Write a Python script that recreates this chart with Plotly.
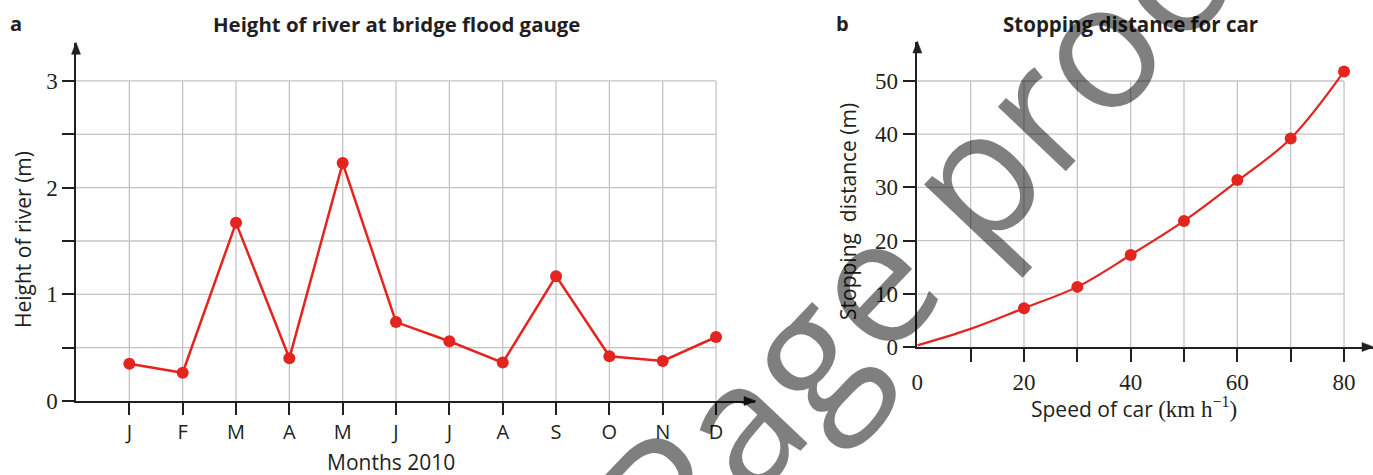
import plotly.graph_objects as go

# ---------------- data ----------------
months = ["J", "F", "M", "A", "M", "J", "J", "A", "S", "O", "N", "D"]
month_pos = [1, 2, 3, 4, 5, 6, 7, 8, 9, 10, 11, 12]
river_height = [0.35, 0.265, 1.67, 0.40, 2.23, 0.74, 0.56, 0.36, 1.17, 0.42, 0.375, 0.60]
river_yticks = [0, 0.5, 1, 1.5, 2, 2.5, 3]
river_yticktext = ["0", " ", "1", " ", "2", " ", "3"]

speed = [20, 30, 40, 50, 60, 70, 80]
stop_dist = [7.3, 11.3, 17.3, 23.7, 31.4, 39.2, 51.8]
curve_speed = [0, 10, 20, 30, 40, 50, 60, 70, 80]
curve_dist = [0.3, 3.4, 7.3, 11.3, 17.3, 23.7, 31.2, 39.2, 51.8]
car_xlabels = [0, 20, 40, 60, 80]
car_xticks = [10, 20, 30, 40, 50, 60, 70, 80]
car_yticks = [0, 10, 20, 30, 40, 50]

# ---------------- styling ----------------
W, H = 1373, 475
RED = "#e3241f"
INK = "#231f20"
GRID = "#c4c4c4"
SANS = "Open Sans"
SERIF = "Liberation Serif"


def fx(p):
    return p / W


def fy(p):
    return 1 - p / H


fig = go.Figure()

fig.add_trace(go.Scatter(
    x=month_pos, y=river_height, mode="lines+markers",
    line=dict(color=RED, width=2.5), marker=dict(color=RED, size=12),
    xaxis="x", yaxis="y", cliponaxis=False, showlegend=False))

fig.add_trace(go.Scatter(
    x=curve_speed, y=curve_dist, mode="lines", line_shape="spline",
    line=dict(color=RED, width=2.2), xaxis="x2", yaxis="y2",
    cliponaxis=False, showlegend=False))
fig.add_trace(go.Scatter(
    x=speed, y=stop_dist, mode="markers", marker=dict(color=RED, size=12),
    xaxis="x2", yaxis="y2", cliponaxis=False, showlegend=False))

axis_common = dict(showgrid=False, zeroline=False, showline=True, linecolor=INK,
                   linewidth=1.5, tickcolor=INK, tickwidth=1.5, fixedrange=True,
                   automargin=False)

fig.update_layout(
    width=W, height=H, margin=dict(l=0, r=0, t=0, b=0, pad=0, autoexpand=False),
    paper_bgcolor="white", plot_bgcolor="rgba(0,0,0,0)",
    xaxis=dict(domain=[fx(76), fx(755)], range=[0, 12.73], tickmode="array",
               tickvals=month_pos, ticktext=months, ticks="outside", ticklen=12, anchor="y",
               tickfont=dict(family=SANS, size=20, color=INK), **axis_common),
    yaxis=dict(domain=[fy(401), fy(43.3)], range=[0, 3.353], tickmode="array",
               tickvals=river_yticks, ticktext=river_yticktext, ticks="outside",
               ticklen=12, anchor="x",
               tickfont=dict(family=SERIF, size=23, color=INK), **axis_common),
    xaxis2=dict(domain=[fx(917.3), 1], range=[0, 85.43], tickmode="array",
                tickvals=car_xlabels, ticktext=[str(v) for v in car_xlabels], ticks="",
                ticklabelstandoff=14, anchor="y2",
                minor=dict(tickmode="array", tickvals=car_xticks, ticks="outside",
                           ticklen=13, tickcolor=INK, tickwidth=1.5, showgrid=False),
                tickfont=dict(family=SERIF, size=23, color=INK), **axis_common),
    yaxis2=dict(domain=[fy(347), fy(42)], range=[0, 57.33], tickmode="array",
                tickvals=car_yticks, ticktext=[str(v) for v in car_yticks], ticks="outside",
                ticklen=13, anchor="x2",
                tickfont=dict(family=SERIF, size=23, color=INK), **axis_common),
)

shapes = []
# grid lines (left)
for xv in month_pos:
    shapes.append(dict(type="line", xref="x", yref="y", x0=xv, x1=xv, y0=0,
                       y1=river_yticks[-1], line=dict(color=GRID, width=1.3), layer="below"))
for yv in river_yticks[1:]:
    shapes.append(dict(type="line", xref="x", yref="y", x0=0, x1=month_pos[-1], y0=yv,
                       y1=yv, line=dict(color=GRID, width=1.3), layer="below"))
# grid lines (right)
for xv in car_xticks:
    shapes.append(dict(type="line", xref="x2", yref="y2", x0=xv, x1=xv, y0=0,
                       y1=car_yticks[-1], line=dict(color=GRID, width=1.3), layer="below"))
for yv in car_yticks[1:]:
    shapes.append(dict(type="line", xref="x2", yref="y2", x0=0, x1=car_xticks[-1], y0=yv,
                       y1=yv, line=dict(color=GRID, width=1.3), layer="below"))

# arrow heads at the axis ends
for xr, yr in (("x", "y"), ("x2", "y2")):
    shapes.append(dict(type="path", xref=xr + " domain", yref=yr + " domain",
                       xsizemode="pixel", ysizemode="pixel", xanchor=1, yanchor=0,
                       path="M1,0 L-11,4.5 L-11,-4.5 Z", fillcolor=INK,
                       line=dict(color=INK, width=0.5)))
    shapes.append(dict(type="path", xref=xr + " domain", yref=yr + " domain",
                       xsizemode="pixel", ysizemode="pixel", xanchor=0, yanchor=1,
                       path="M0,1 L-4.5,-11 L4.5,-11 Z", fillcolor=INK,
                       line=dict(color=INK, width=0.5)))
fig.update_layout(shapes=shapes)

ann = []


def label(text, x, y, size=19, family=SANS, angle=0, color=INK):
    ann.append(dict(text=text, x=fx(x), y=fy(y), xref="paper", yref="paper",
                    xanchor="center", yanchor="middle", showarrow=False,
                    textangle=angle, font=dict(family=family, size=size, color=color)))


label("<b>a</b>", 16, 24, size=20)
label("<b>Height of river at bridge flood gauge</b>", 396, 24, size=20.4)
label("<b>b</b>", 842, 24, size=20)
label("<b>Stopping distance for car</b>", 1130, 24, size=20.5)
label("Height of river (m)", 23, 240, size=21, angle=-90)
label("Months 2010", 391, 462, size=21)
label("Stopping  distance (m)", 848, 212, size=21, angle=-90)
label('Speed of car <span style="font-family:Liberation Serif;font-size:23px">(km h<sup>\u22121</sup>)</span>',
      1134, 408, size=21)
# watermark
label("Page proof", 937, 208, size=175, angle=-46.5, color="rgba(0,0,0,0.5)")
fig.update_layout(annotations=ann)

post = """
var s = document.createElement('style');
s.innerHTML = 'html,body{margin:0!important;padding:0!important;overflow:hidden!important;}';
document.head.appendChild(s);
"""
fig.write_html("out.html", config={"displayModeBar": False}, post_script=post)
